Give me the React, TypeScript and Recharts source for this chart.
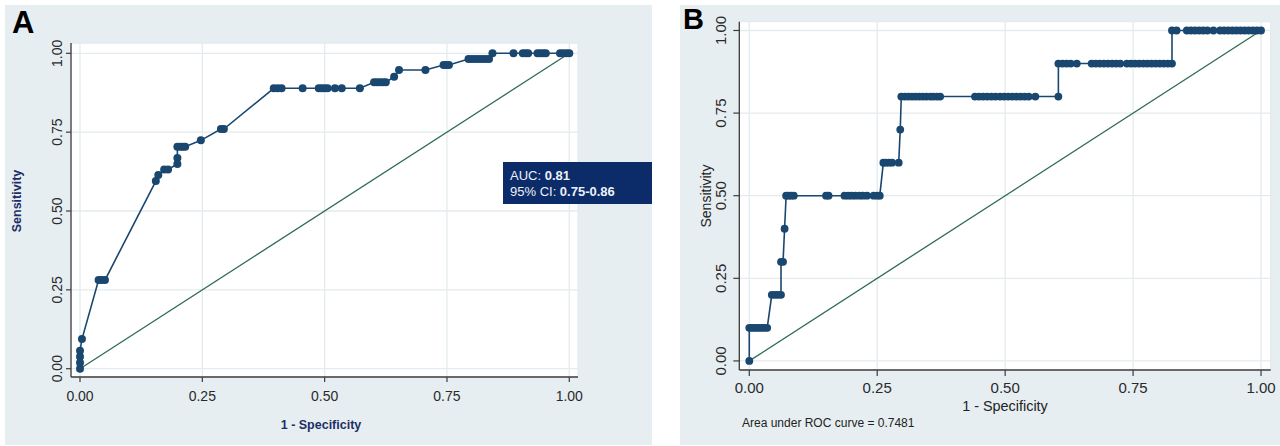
import React from 'react';
import { LineChart, Line, XAxis, YAxis, CartesianGrid } from 'recharts';

const axisTicks = [0, 0.25, 0.5, 0.75, 1];
const tickLabels = ['0.00', '0.25', '0.50', '0.75', '1.00'];

// Panel A ROC points (1 - specificity, sensitivity)
const rocAFpr = [0, 0, 0, 0, 0.004, 0.038, 0.044, 0.051, 0.155, 0.16, 0.172, 0.18, 0.199, 0.199, 0.199, 0.205, 0.21, 0.215, 0.247, 0.288, 0.294, 0.396, 0.404, 0.412, 0.455, 0.488, 0.494, 0.5, 0.506, 0.521, 0.535, 0.572, 0.601, 0.607, 0.613, 0.619, 0.625, 0.642, 0.652, 0.706, 0.743, 0.749, 0.754, 0.794, 0.801, 0.808, 0.815, 0.822, 0.829, 0.836, 0.843, 0.886, 0.905, 0.911, 0.916, 0.935, 0.941, 0.947, 0.952, 0.981, 0.987, 0.994, 1.0];
const rocATpr = [0, 0.019, 0.038, 0.057, 0.094, 0.281, 0.281, 0.281, 0.595, 0.614, 0.632, 0.632, 0.649, 0.668, 0.704, 0.704, 0.704, 0.704, 0.724, 0.76, 0.76, 0.889, 0.889, 0.889, 0.889, 0.889, 0.889, 0.889, 0.889, 0.889, 0.889, 0.889, 0.908, 0.908, 0.908, 0.908, 0.908, 0.926, 0.947, 0.947, 0.963, 0.963, 0.963, 0.982, 0.982, 0.982, 0.982, 0.982, 0.982, 0.982, 1.0, 1.0, 1.0, 1.0, 1.0, 1.0, 1.0, 1.0, 1.0, 1.0, 1.0, 1.0, 1.0];

// Panel B ROC points
const rocBFpr = [0, 0, 0.005, 0.01, 0.015, 0.02, 0.025, 0.03, 0.035, 0.044, 0.05, 0.056, 0.062, 0.062, 0.066, 0.069, 0.072, 0.077, 0.082, 0.087, 0.15, 0.155, 0.186, 0.193, 0.2, 0.207, 0.215, 0.222, 0.23, 0.243, 0.25, 0.255, 0.262, 0.267, 0.273, 0.279, 0.292, 0.295, 0.297, 0.304, 0.311, 0.318, 0.325, 0.332, 0.339, 0.346, 0.354, 0.36, 0.367, 0.373, 0.441, 0.449, 0.457, 0.465, 0.473, 0.481, 0.49, 0.498, 0.506, 0.514, 0.522, 0.53, 0.538, 0.546, 0.559, 0.604, 0.604, 0.612, 0.62, 0.628, 0.64, 0.669, 0.677, 0.685, 0.693, 0.701, 0.709, 0.717, 0.725, 0.738, 0.746, 0.754, 0.762, 0.77, 0.778, 0.786, 0.794, 0.802, 0.81, 0.818, 0.826, 0.826, 0.835, 0.855, 0.863, 0.871, 0.879, 0.887, 0.895, 0.907, 0.92, 0.928, 0.936, 0.944, 0.952, 0.96, 0.968, 0.976, 0.984, 0.992, 1.0];
const rocBTpr = [0, 0.1, 0.1, 0.1, 0.1, 0.1, 0.1, 0.1, 0.1, 0.2, 0.2, 0.2, 0.2, 0.3, 0.3, 0.4, 0.5, 0.5, 0.5, 0.5, 0.5, 0.5, 0.5, 0.5, 0.5, 0.5, 0.5, 0.5, 0.5, 0.5, 0.5, 0.5, 0.6, 0.6, 0.6, 0.6, 0.6, 0.7, 0.8, 0.8, 0.8, 0.8, 0.8, 0.8, 0.8, 0.8, 0.8, 0.8, 0.8, 0.8, 0.8, 0.8, 0.8, 0.8, 0.8, 0.8, 0.8, 0.8, 0.8, 0.8, 0.8, 0.8, 0.8, 0.8, 0.8, 0.8, 0.9, 0.9, 0.9, 0.9, 0.9, 0.9, 0.9, 0.9, 0.9, 0.9, 0.9, 0.9, 0.9, 0.9, 0.9, 0.9, 0.9, 0.9, 0.9, 0.9, 0.9, 0.9, 0.9, 0.9, 0.9, 1.0, 1.0, 1.0, 1.0, 1.0, 1.0, 1.0, 1.0, 1.0, 1.0, 1.0, 1.0, 1.0, 1.0, 1.0, 1.0, 1.0, 1.0, 1.0, 1.0];

const refX = [0, 1];
const refY = [0, 1];

const dataA = rocAFpr.map((x, i) => ({ x, y: rocATpr[i] }));
const dataB = rocBFpr.map((x, i) => ({ x, y: rocBTpr[i] }));
const refData = refX.map((x, i) => ({ x, y: refY[i] }));

const FONT = '"Liberation Sans", Arial, sans-serif';
const NAVY = '#1a476f';
const GREEN = '#2f6b52';
const BG = '#e7eef1';
const GRID = '#e3ebee';
const AXIS = '#3c3c3c';

const fmt = (v: number) => {
  const i = axisTicks.indexOf(v);
  return i >= 0 ? tickLabels[i] : v.toFixed(2);
};

const XTick = (p: any) => (
  <text x={p.x} y={p.y + p.dy0} textAnchor="middle" fontSize={p.fs} fill="#2a2a2a" fontFamily={FONT}>
    {fmt(p.payload.value)}
  </text>
);

const YTick = (p: any) => (
  <text
    x={p.x}
    y={p.y}
    transform={`rotate(-90 ${p.x} ${p.y})`}
    textAnchor="middle"
    fontSize={p.fs}
    fill="#2a2a2a"
    fontFamily={FONT}
  >
    {fmt(p.payload.value)}
  </text>
);

export default function App() {
  return (
    <div style={{ position: 'absolute', left: 0, top: 0, width: 1280, height: 446, background: '#ffffff', overflow: 'hidden' }}>
      <div style={{ position: 'absolute', left: 5, top: 5, width: 647, height: 440, background: BG }} />
      <div style={{ position: 'absolute', left: 680, top: 5, width: 600, height: 440, background: BG }} />

      <div style={{ position: 'absolute', left: 0, top: 0 }}>
        <LineChart width={652} height={446} margin={{ top: 43, left: 70, right: 74, bottom: 68 }}>
          <CartesianGrid fill="#ffffff" stroke={GRID} strokeWidth={1.3} />
          <XAxis
            dataKey="x"
            type="number"
            domain={[-0.0184, 1.0178]}
            ticks={axisTicks}
            allowDataOverflow
            height={1}
            tickSize={5}
            tickMargin={0}
            axisLine={{ stroke: AXIS, strokeWidth: 1.3 }}
            tickLine={{ stroke: AXIS, strokeWidth: 1.2 }}
            tick={(p: any) => <XTick {...p} fs={14} dy0={19} />}
            interval={0}
          />
          <YAxis
            dataKey="y"
            type="number"
            domain={[-0.0263, 1.0327]}
            ticks={axisTicks}
            allowDataOverflow
            width={1}
            tickSize={5}
            tickMargin={4}
            axisLine={{ stroke: AXIS, strokeWidth: 1.3 }}
            tickLine={{ stroke: AXIS, strokeWidth: 1.2 }}
            tick={(p: any) => <YTick {...p} fs={14} />}
            interval={0}
          />
          <Line data={refData} dataKey="y" type="linear" stroke={GREEN} strokeWidth={1.3} dot={false} activeDot={false} isAnimationActive={false} />
          <Line
            data={dataA}
            dataKey="y"
            type="linear"
            stroke={NAVY}
            strokeWidth={1.6}
            dot={{ r: 4, fill: NAVY, stroke: NAVY, strokeWidth: 0 }}
            activeDot={false}
            isAnimationActive={false}
          />
        </LineChart>
      </div>

      <div style={{ position: 'absolute', left: 652, top: 0 }}>
        <LineChart width={628} height={446} margin={{ top: 21.7, left: 86.3, right: 9.3, bottom: 75 }}>
          <CartesianGrid fill="#ffffff" stroke={GRID} strokeWidth={1.3} />
          <XAxis
            dataKey="x"
            type="number"
            domain={[-0.0195, 1.0189]}
            ticks={axisTicks}
            allowDataOverflow
            height={1}
            tickSize={6}
            tickMargin={0}
            axisLine={{ stroke: AXIS, strokeWidth: 1.3 }}
            tickLine={{ stroke: AXIS, strokeWidth: 1.2 }}
            tick={(p: any) => <XTick {...p} fs={15} dy0={17} />}
            interval={0}
          />
          <YAxis
            dataKey="y"
            type="number"
            domain={[-0.0275, 1.0266]}
            ticks={axisTicks}
            allowDataOverflow
            width={1}
            tickSize={6}
            tickMargin={7}
            axisLine={{ stroke: AXIS, strokeWidth: 1.3 }}
            tickLine={{ stroke: AXIS, strokeWidth: 1.2 }}
            tick={(p: any) => <YTick {...p} fs={15} />}
            interval={0}
          />
          <Line data={refData} dataKey="y" type="linear" stroke={GREEN} strokeWidth={1.3} dot={false} activeDot={false} isAnimationActive={false} />
          <Line
            data={dataB}
            dataKey="y"
            type="linear"
            stroke={NAVY}
            strokeWidth={1.6}
            dot={{ r: 3.9, fill: NAVY, stroke: NAVY, strokeWidth: 0 }}
            activeDot={false}
            isAnimationActive={false}
          />
        </LineChart>
      </div>

      <svg width={1280} height={446} style={{ position: 'absolute', left: 0, top: 0, pointerEvents: 'none' }}>
        <text x={12} y={33} fontSize={31} fontWeight="bold" fontFamily={FONT} fill="#000">A</text>
        <text x={683} y={29} fontSize={29} fontWeight="bold" fontFamily={FONT} fill="#000">B</text>

        <text x={21} y={201} transform="rotate(-90 21 201)" textAnchor="middle" fontSize={12.5} fontWeight="bold" fontFamily={FONT} fill="#1c2f66">Sensitivity</text>
        <text x={321} y={429} textAnchor="middle" fontSize={12.5} fontWeight="bold" fontFamily={FONT} fill="#1c2f66">1 - Specificity</text>

        <rect x={503} y={162} width={149} height={42} fill="#0c2b69" />
        <text x={510} y={180} fontSize={13} fontFamily={FONT} fill="#eef1f7">
          AUC: <tspan fontWeight="bold">0.81</tspan>
        </text>
        <text x={510} y={195.5} fontSize={13} fontFamily={FONT} fill="#eef1f7">
          95% CI: <tspan fontWeight="bold">0.75-0.86</tspan>
        </text>

        <text x={711} y={196} transform="rotate(-90 711 196)" textAnchor="middle" fontSize={14} fontFamily={FONT} fill="#222">Sensitivity</text>
        <text x={1005} y={410.5} textAnchor="middle" fontSize={14.4} fontFamily={FONT} fill="#222">1 - Specificity</text>
        <text x={742} y={427} fontSize={12} fontFamily={FONT} fill="#222">Area under ROC curve = 0.7481</text>
      </svg>
    </div>
  );
}
